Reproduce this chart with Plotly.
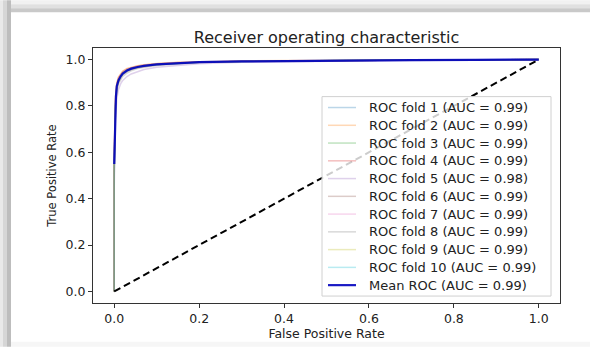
import plotly.graph_objects as go

# ---------------- data ----------------
fold_fpr = [0, 0, 0.003, 0.006, 0.01, 0.015, 0.02, 0.03, 0.04, 0.055, 0.07, 0.1, 0.15, 0.2, 0.3, 0.4, 0.55, 0.7, 0.85, 1.0]

fold_tprs = [
    [0, 0.55, 0.80, 0.875, 0.905, 0.925, 0.937, 0.950, 0.958, 0.966, 0.972, 0.979, 0.985, 0.989, 0.992, 0.994, 0.996, 0.998, 0.999, 1.0],
    [0, 0.62, 0.84, 0.900, 0.925, 0.941, 0.951, 0.962, 0.968, 0.974, 0.978, 0.983, 0.988, 0.991, 0.994, 0.996, 0.997, 0.998, 0.999, 1.0],
    [0, 0.50, 0.80, 0.880, 0.910, 0.928, 0.940, 0.952, 0.960, 0.967, 0.972, 0.978, 0.984, 0.988, 0.992, 0.994, 0.996, 0.998, 0.999, 1.0],
    [0, 0.58, 0.83, 0.895, 0.922, 0.938, 0.948, 0.960, 0.966, 0.972, 0.977, 0.982, 0.987, 0.990, 0.993, 0.995, 0.997, 0.998, 0.999, 1.0],
    [0, 0.45, 0.74, 0.830, 0.870, 0.895, 0.910, 0.927, 0.938, 0.949, 0.957, 0.967, 0.976, 0.982, 0.988, 0.991, 0.994, 0.996, 0.998, 1.0],
    [0, 0.52, 0.79, 0.870, 0.902, 0.922, 0.935, 0.948, 0.957, 0.965, 0.970, 0.977, 0.984, 0.988, 0.992, 0.994, 0.996, 0.998, 0.999, 1.0],
    [0, 0.57, 0.82, 0.890, 0.918, 0.934, 0.945, 0.957, 0.964, 0.970, 0.975, 0.981, 0.986, 0.989, 0.993, 0.995, 0.997, 0.998, 0.999, 1.0],
    [0, 0.53, 0.78, 0.860, 0.895, 0.915, 0.928, 0.942, 0.952, 0.961, 0.967, 0.975, 0.982, 0.987, 0.991, 0.994, 0.996, 0.998, 0.999, 1.0],
    [0, 0.56, 0.82, 0.888, 0.916, 0.933, 0.944, 0.956, 0.963, 0.970, 0.975, 0.981, 0.986, 0.989, 0.993, 0.995, 0.997, 0.998, 0.999, 1.0],
    [0, 0.54, 0.81, 0.882, 0.912, 0.930, 0.941, 0.953, 0.961, 0.968, 0.973, 0.979, 0.985, 0.989, 0.992, 0.995, 0.997, 0.998, 0.999, 1.0],
]
fold_auc = [0.99, 0.99, 0.99, 0.99, 0.98, 0.99, 0.99, 0.99, 0.99, 0.99]

mean_fpr = [0, 0.002, 0.004, 0.006, 0.008, 0.01, 0.015, 0.02, 0.03, 0.04, 0.055, 0.07, 0.1, 0.15, 0.2, 0.3, 0.4, 0.55, 0.7, 0.85, 1.0]
mean_tpr = [0.55, 0.72, 0.84, 0.885, 0.900, 0.910, 0.928, 0.940, 0.953, 0.961, 0.968, 0.973, 0.979, 0.985, 0.989, 0.992, 0.994, 0.996, 0.998, 0.999, 1.0]
mean_auc = 0.99

chance_x = [0, 1]
chance_y = [0, 1]

tick_vals = [0, 0.2, 0.4, 0.6, 0.8, 1.0]
tick_text = ["0.0", "0.2", "0.4", "0.6", "0.8", "1.0"]

fold_colors = ["rgba(31,119,180,0.3)", "rgba(255,127,14,0.3)", "rgba(44,160,44,0.3)",
               "rgba(214,39,40,0.3)", "rgba(148,103,189,0.3)", "rgba(140,86,75,0.3)",
               "rgba(227,119,194,0.3)", "rgba(127,127,127,0.3)", "rgba(188,189,34,0.3)",
               "rgba(23,190,207,0.3)"]
mean_color = "rgba(0,0,190,0.9)"

# ---------------- figure ----------------
fig = go.Figure()
names, colors, widths = [], [], []
for i, tpr in enumerate(fold_tprs):
    nm = f"ROC fold {i+1} (AUC = {fold_auc[i]:.2f})"
    fig.add_trace(go.Scatter(x=fold_fpr, y=tpr, mode="lines",
                             line=dict(color=fold_colors[i], width=1.5), name=nm))
    names.append(nm); colors.append(fold_colors[i]); widths.append(1.5)

fig.add_trace(go.Scatter(x=chance_x, y=chance_y, mode="lines",
                         line=dict(color="black", width=2, dash="7px,4px"), name="Chance"))

nm = f"Mean ROC (AUC = {mean_auc:.2f})"
fig.add_trace(go.Scatter(x=mean_fpr, y=mean_tpr, mode="lines",
                         line=dict(color=mean_color, width=2.2), name=nm))
names.append(nm); colors.append(mean_color); widths.append(2.2)

W, H = 590, 349
L, R, T, B = 93, 30, 48, 44
pw, ph = W - L - R, H - T - B

def px(x):
    return (x - L) / pw

def py(y):
    return (H - B - y) / ph

shapes = []
# decorative shadow frame of the screenshot
for (x0, x1, c) in [(0, 3, "#e9e9e9"), (3, 7, "#d6d6d6"), (7, 11, "#bdbdbd")]:
    shapes.append(dict(type="rect", xref="paper", yref="paper", x0=px(x0), x1=px(x1),
                       y0=py(H), y1=py(0), fillcolor=c, line_width=0, layer="below"))
for (y0, y1, c) in [(0, 4, "#f1f1f1"), (4, 8, "#e0e0e0"), (8, 12, "#c9c9c9")]:
    shapes.append(dict(type="rect", xref="paper", yref="paper", x0=px(11), x1=px(W),
                       y0=py(y1), y1=py(y0), fillcolor=c, line_width=0, layer="below"))
shapes.append(dict(type="rect", xref="paper", yref="paper", x0=px(11), x1=px(W),
                   y0=py(H), y1=py(344), fillcolor="#f6f6f6", line_width=0, layer="below"))

# legend box (drawn like matplotlib's lower-right legend)
lg_l, lg_r, lg_t, lg_b = 322, 551, 97, 298
row0, row_gap = 108, 17.9
shapes.append(dict(type="rect", xref="paper", yref="paper", x0=px(lg_l), x1=px(lg_r),
                   y0=py(lg_b), y1=py(lg_t), fillcolor="rgba(255,255,255,0.8)",
                   line=dict(color="#d0d0d0", width=1), layer="above"))
annotations = []
for k, (nm, c, w) in enumerate(zip(names, colors, widths)):
    yy = row0 + k * row_gap
    shapes.append(dict(type="line", xref="paper", yref="paper", x0=px(328), x1=px(356),
                       y0=py(yy), y1=py(yy), line=dict(color=c, width=w), layer="above"))
    annotations.append(dict(xref="paper", yref="paper", x=px(367), y=py(yy), text=nm,
                            showarrow=False, xanchor="left", yanchor="middle",
                            font=dict(size=13, color="#222")))

fig.update_layout(
    width=W, height=H,
    margin=dict(l=L, r=R, t=T, b=B),
    paper_bgcolor="white", plot_bgcolor="white",
    font=dict(family="DejaVu Sans", size=12, color="#222"),
    title=dict(text="Receiver operating characteristic", x=0.5, xref="paper", xanchor="center",
               y=1 - 37 / H, yanchor="middle", font=dict(size=16, color="#222")),
    xaxis=dict(range=[-0.05, 1.05], tickvals=tick_vals, ticktext=tick_text,
               ticks="outside", ticklen=4, tickcolor="#333", showgrid=False, zeroline=False,
               showline=True, linecolor="#333", linewidth=1, mirror=True,
               tickfont=dict(size=12.5),
               title=dict(text="False Positive Rate", font=dict(size=12.5), standoff=2)),
    yaxis=dict(range=[-0.05, 1.05], tickvals=tick_vals, ticktext=tick_text,
               ticks="outside", ticklen=4, tickcolor="#333", showgrid=False, zeroline=False,
               showline=True, linecolor="#333", linewidth=1, mirror=True,
               tickfont=dict(size=12.5),
               title=dict(text="True Positive Rate", font=dict(size=11.5), standoff=6)),
    shapes=shapes,
    annotations=annotations,
    showlegend=False,
)

fig.write_html("out.html", config={"displayModeBar": False},
               post_script="document.body.style.margin='0';document.body.style.overflow='hidden';")
